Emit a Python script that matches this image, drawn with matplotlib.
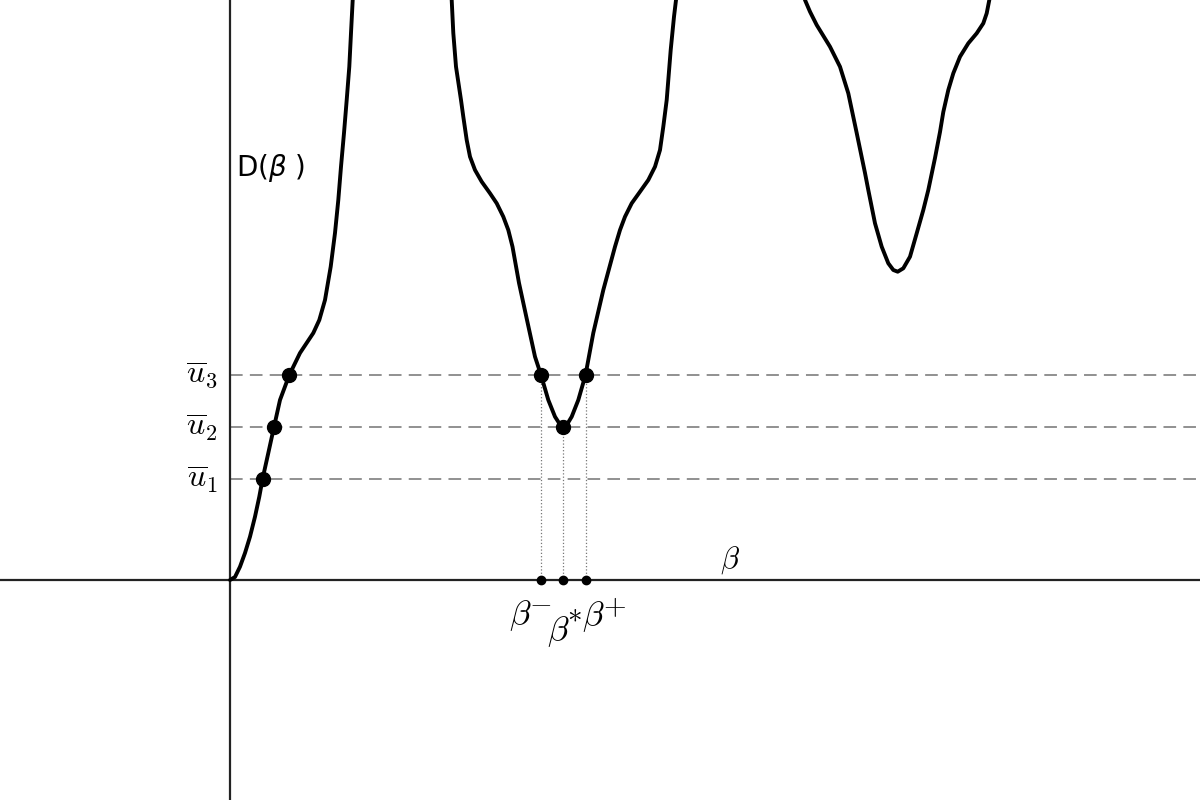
import numpy as np
import matplotlib
matplotlib.use("Agg")
import matplotlib.pyplot as plt

plt.rcParams['mathtext.fontset'] = 'cm'

# Curve D(beta) (off-screen points only continue the curve)
beta = [0.0, 0.05, 0.10, 0.15, 0.20, 0.25, 0.293, 0.327, 0.383, 0.44, 0.50, 0.593,
        0.70, 0.833, 0.893, 0.95, 1.007, 1.05, 1.083, 1.11, 1.14, 1.167, 1.193, 1.21,
        1.227, 1.24, 1.70,
        2.205, 2.217, 2.233, 2.26, 2.31, 2.333, 2.367, 2.40, 2.45, 2.517, 2.60, 2.667,
        2.733, 2.783, 2.825, 2.89, 2.97, 3.05, 3.11, 3.183, 3.25, 3.30, 3.333, 3.37,
        3.417, 3.483, 3.555, 3.633, 3.733, 3.85, 3.90, 3.95, 4.017, 4.10, 4.183, 4.25,
        4.30, 4.333, 4.367, 4.407, 4.44, 4.46, 4.475, 5.10,
        5.73, 5.75, 5.80, 5.867, 6.00, 6.10, 6.183, 6.267, 6.35, 6.383, 6.45, 6.517,
        6.583, 6.633, 6.677, 6.733, 6.80, 6.867, 6.933, 6.983, 7.05, 7.10, 7.133, 7.183,
        7.233, 7.30, 7.383, 7.467, 7.533, 7.567, 7.593, 7.61, 9.9]
D = [0.0, 0.03, 0.133, 0.27, 0.433, 0.633, 0.833, 1.017, 1.27, 1.53, 1.80, 2.05,
     2.27, 2.47, 2.60, 2.80, 3.133, 3.47, 3.80, 4.133, 4.47, 4.80, 5.133, 5.47,
     5.80, 6.0, 7.5,
     6.0, 5.80, 5.47, 5.133, 4.80, 4.633, 4.40, 4.233, 4.10, 3.983, 3.867, 3.767,
     3.633, 3.50, 3.333, 2.97, 2.60, 2.233, 2.05, 1.80, 1.633, 1.555, 1.53, 1.555,
     1.633, 1.80, 2.05, 2.47, 2.90, 3.333, 3.50, 3.633, 3.767, 3.883, 4.00, 4.133,
     4.30, 4.533, 4.80, 5.30, 5.633, 5.80, 6.0, 7.0,
     6.0, 5.80, 5.683, 5.55, 5.333, 5.133, 4.867, 4.47, 4.07, 3.90, 3.567, 3.333,
     3.167, 3.10, 3.083, 3.117, 3.233, 3.467, 3.70, 3.90, 4.22, 4.48, 4.68, 4.90,
     5.067, 5.233, 5.367, 5.467, 5.567, 5.667, 5.80, 6.0, 7.0]

u_levels = [1.01, 1.53, 2.05]
u_labels = [r"$\overline{u}_1$", r"$\overline{u}_2$", r"$\overline{u}_3$"]
u_beta = [0.327, 0.44, 0.593]          # points on the first branch

beta_marks = [3.11, 3.333, 3.555]       # beta-, beta*, beta+
beta_mark_D = [2.05, 1.53, 2.05]
beta_mark_sups = [r"$-$", r"$*$", r"$+$"]

fig = plt.figure(figsize=(12, 8), dpi=100)
ax = fig.add_axes([0, 0, 1, 1])
ax.set_xlim(-2.3, 9.7)
ax.set_ylim(-2.2, 5.8)
ax.axis('off')

# axes
ax.axhline(0, color='#222222', lw=1.6, zorder=2)
ax.axvline(0, color='#222222', lw=1.6, zorder=2)

# dashed levels
for u in u_levels:
    ax.plot([0, 9.7], [u, u], color='#888888', lw=1.3, dashes=(7, 4), zorder=1)
for u, lab in zip(u_levels, u_labels):
    ax.text(-0.12, u, lab, ha='right', va='center', fontsize=23, color='black')

# dotted verticals
for b, d in zip(beta_marks, beta_mark_D):
    ax.plot([b, b], [0, d], color='#777777', lw=0.9, ls=':', zorder=1)

# curve
ax.plot(beta, D, color='black', lw=2.8, solid_joinstyle='round',
        solid_capstyle='round', zorder=3)

# points
ax.plot(u_beta, u_levels, 'o', color='black', ms=10, zorder=4)
ax.plot(beta_marks, beta_mark_D, 'o', color='black', ms=10, zorder=4)
ax.plot(beta_marks, [0, 0, 0], 'o', color='black', ms=6, zorder=4)

# beta-mark labels (base letter + enlarged superscript)
base_off = [(-0.21, -0.36), (-0.055, -0.52), (0.08, -0.37)]
sup_off = [(-0.005, -0.23), (0.115, -0.33), (0.29, -0.27)]
for b, (dx, dy), (sx, sy), sup in zip(beta_marks, base_off, sup_off, beta_mark_sups):
    ax.text(b + dx, dy, r"$\beta$", ha='center', va='center', fontsize=25)
    ax.text(b + sx, sy, sup, ha='center', va='center', fontsize=21)

ax.text(5.0, 0.2, r"$\beta$", ha='center', va='center', fontsize=22)
ax.text(0.06, 4.12, r"D($\beta$ )", ha='left', va='center', fontsize=20,
        math_fontfamily='dejavusans')

fig.savefig("out.png", dpi=100)
